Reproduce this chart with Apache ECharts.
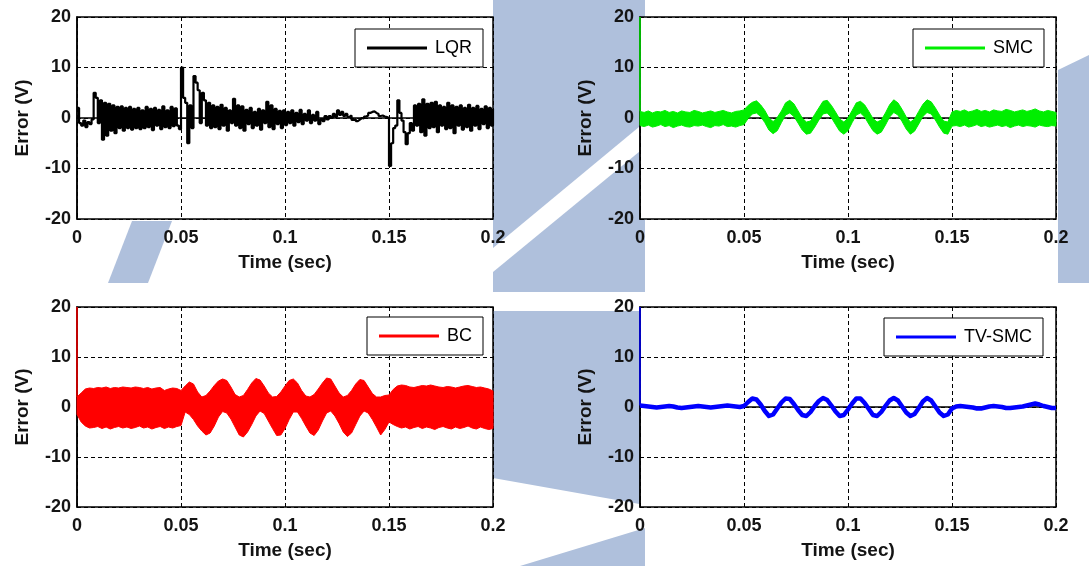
<!DOCTYPE html>
<html>
<head>
<meta charset="utf-8">
<script src="https://cdn.jsdelivr.net/npm/echarts@6/dist/echarts.min.js"></script>
<style>
  html, body { margin: 0; padding: 0; background: #ffffff; }
  #chart { width: 1089px; height: 566px; }
</style>
</head>
<body>
<div id="chart"></div>
<script>
// Axis ticks shared by the four panels
const xTicks = [0, 0.05, 0.1, 0.15, 0.2];
const yTicks = [-20, -10, 0, 10, 20];

const controllerNames = ['LQR', 'SMC', 'BC', 'TV-SMC'];

// LQR tracking error, one sample per millisecond (V)
const lqrStep = 0.001;
const lqrError = [
  2, -1, -1.5, -0.5, -1.8, -0.8, -1.2, -0.3, 5, 4,
  -1, 3.5, -4.3, 3, -3.5, 2.8, -2.5, 2.5, -3, 2.2,
  -2, 2.3, -2.5, 2, -2, 2.2, -2.3, 1.8, -2, 2,
  -2.2, 1.5, -2, 2.2, -1.8, 1.8, -2.4, 2, -1.5, 1.6,
  -2.2, 2.3, -1.8, 1.5, -2, 2.2, -1.6, 1.9, -1.5, -2.2,
  10, 4, 3, -5, 2.5, -2, 8.3, 7, 5.5, -1,
  5, 3.5, -1.5, 3, -2, 2.5, -1.8, 2.2, -2.2, 2.6,
  -1.5, 2, -2.5, 1.5, -1, 3.8, -1.5, 2.5, -2, 2.3,
  -2.5, 1.6, -1.2, 2, -2, 1.2, -1.5, 1.8, -2.3, 1.5,
  -1, 3.2, -1.8, 2.5, -2.2, 1.8, -1.2, 1.4, -2, 1.5,
  -1.4, 1.2, -1, 1.5, -1.5, 1, -0.8, 1.6, -1.2, 0.8,
  -0.5, 1.5, -1, 0.6, -0.5, 1.2, -1.2, -0.2, -0.6, 0.4,
  -0.3, 0.4, 0, 0.8, 0.2, 1.5, 0.6, 1.2, 0.4, 0.8,
  0.2, 0.5, -0.4, -0.2, -0.6, -0.3, 0, -0.1, 0.3, 0.5,
  1, 1.2, 1.3, 1, 0.8, 0.4, 0.5, 0.3, 0.2, 0,
  -9.5, -5, -2, -1.5, 3.5, 1, -0.5, -2.8, -5.2, -3,
  -1, -2.5, 2.5, -1.5, 2.8, -2.8, 3.7, -3.5, 2.8, -2,
  3, -1.8, 3.2, -2.8, 2.5, -1.5, 2.2, -2.2, 3, -2,
  2.5, -3, 2.2, -1.5, 2.5, -2.3, 2, -1.8, 2.6, -2.5,
  2, -1.5, 2.4, -2.2, 1.8, -1.2, 2.3, -2, 2, -1.5,
  1.8
];

// Envelopes of the fast-switching errors, one sample every 2 ms (V)
const bandStep = 0.002;
const smcUpper = [
  1.3, 1.1, 1.4, 1.0, 1.3, 1.2, 1.5, 1.1, 1.3, 1.0, 1.4, 1.2, 1.1, 1.5, 1.3, 1.0, 1.2, 1.4, 1.1, 1.3, 1.5, 1.2, 1.0, 1.3, 1.4,
  1.6, 2.5, 3.1, 3.4, 2.6, 1.5, 0.0, -0.7, 0.1, 1.4,
  3.0, 3.5, 2.8, 1.4, 0.0, -0.8, -0.6, 0.7, 2.0, 3.3,
  3.5, 2.5, 1.2, -0.2, -0.8, 0.0, 1.5, 3.0, 3.3, 2.6,
  1.3, -0.1, -0.8, -0.4, 1.0, 2.6, 3.6, 3.0, 1.7, 0.2,
  -0.8, -0.2, 1.3, 2.7, 3.6, 3.2, 2.0, 0.6, -0.6, -0.8,
  1.2,
  1.5, 1.3, 1.6, 1.2, 1.4, 1.7, 1.3, 1.5, 1.2, 1.6, 1.4, 1.3, 1.7, 1.5, 1.2, 1.4, 1.6, 1.3, 1.5, 1.8, 1.4, 1.2, 1.5, 1.3, 1.1
];
const smcLower = [
  -1.5, -1.7, -1.4, -1.8, -1.6, -1.3, -1.7, -1.5, -1.9, -1.6, -1.4, -1.7, -1.8, -1.5, -1.6, -1.4, -1.7, -1.9, -1.5, -1.6, -1.3, -1.7, -1.6, -1.8, -1.5,
  -1.3, -0.1, 0.8, 1.0, 0.3, -0.9, -2.4, -3.1, -2.5, -0.9,
  0.6, 1.0, 0.3, -1.0, -2.4, -3.2, -3.0, -1.8, -0.4, 0.8,
  1.0, 0.1, -1.3, -2.6, -3.2, -2.5, -0.9, 0.6, 1.0, 0.2,
  -1.2, -2.5, -3.2, -2.8, -1.4, 0.2, 1.1, 0.6, -0.7, -2.2,
  -3.2, -2.6, -1.2, 0.3, 1.1, 0.8, -0.4, -1.8, -3.0, -3.2,
  -1.6,
  -1.5, -1.7, -1.4, -1.8, -1.6, -1.3, -1.7, -1.5, -1.8, -1.6, -1.4, -1.7, -1.5, -1.9, -1.6, -1.4, -1.7, -1.5, -1.6, -1.8, -1.4, -1.6, -1.7, -1.5, -1.6
];
const bcUpper = [
  2.0, 2.8, 3.6, 3.8, 3.7, 3.9, 3.8, 4.0, 3.7, 3.9, 3.8, 4.0, 3.9, 3.8, 4.0, 3.9, 3.7, 3.9, 3.6, 3.8, 3.9, 3.3, 3.6, 3.8, 3.7,
  3.3, 4.2, 5.0, 4.6, 3.0, 2.0, 2.3, 3.2, 4.3, 5.2,
  5.6, 5.3, 4.0, 2.5, 2.0, 2.3, 3.5, 4.8, 5.7, 5.4,
  4.2, 2.8, 2.0, 2.1, 3.0, 4.2, 5.3, 5.6, 4.8, 3.3,
  2.2, 2.0, 2.5, 3.6, 4.8, 5.8, 5.6, 4.2, 2.8, 2.0,
  2.3, 3.3, 4.6, 5.5, 5.3, 4.0, 2.7, 2.0, 2.0, 2.3,
  2.4,
  3.5, 4.2, 4.4, 4.3, 4.0, 3.9, 4.1, 4.3, 4.2, 4.4, 4.2, 4.0, 3.9, 4.1, 4.0, 3.8, 4.0, 4.2, 4.3, 4.1, 3.9, 4.0, 3.8, 3.6, 3.2
];
const bcLower = [
  -1.5, -3.0, -3.8, -4.2, -4.1, -3.9, -4.3, -4.0, -4.4, -4.1, -3.9, -4.2, -4.0, -4.3, -4.1, -3.8, -4.2, -4.0, -4.4, -4.1, -3.9, -4.3, -4.0, -4.2, -3.9,
  -3.7, -1.0, -1.5, -2.5, -3.8, -4.8, -5.6, -5.2, -3.8, -2.0,
  -0.9, -1.2, -2.4, -4.0, -5.6, -6.0, -5.0, -3.5, -1.8, -0.8,
  -1.3, -2.8, -4.3, -5.7, -5.6, -4.3, -2.5, -1.0, -1.0, -2.3,
  -3.8, -5.2, -5.7, -4.6, -2.8, -1.2, -0.8, -1.8, -3.3, -5.0,
  -5.9, -5.2, -3.5, -1.8, -0.8, -1.2, -2.5, -4.0, -5.6, -4.5,
  -3.0,
  -3.5, -3.9, -4.2, -4.0, -4.4, -4.1, -3.9, -4.3, -4.0, -4.2, -4.5, -4.1, -3.9, -4.2, -4.4, -4.0, -4.3, -4.1, -3.8, -4.2, -4.4, -4.0, -4.3, -4.5, -4.3
];

// TV-SMC tracking error, one sample every 2 ms (V)
const tvsmcError = [
  0.3, 0.2, 0.1, 0, -0.1, 0, 0.1, 0.2, 0.1, -0.1, -0.2, -0.1, 0, 0.1, 0.2, 0.1, 0, -0.1, 0, 0.1, 0.2, 0.3, 0.2, 0.1, 0,
  0.2, 1.0, 1.7, 1.5, 0.5, -0.8, -1.8, -1.5, -0.3, 0.9,
  1.7, 1.6, 0.6, -0.6, -1.6, -1.8, -1.0, 0.2, 1.2, 1.8,
  1.4, 0.3, -0.9, -1.8, -1.6, -0.5, 0.7, 1.7, 1.7, 0.8,
  -0.4, -1.6, -1.8, -1.0, 0.2, 1.3, 1.8, 1.3, 0.1, -1.1,
  -1.8, -1.4, -0.2, 1.1, 1.8, 1.3, 0.1, -1.1, -1.8, -1.5,
  -0.3,
  0.1, 0.2, 0.1, 0, -0.1, -0.3, -0.3, -0.1, 0.1, 0.2, 0.1, 0, -0.2, -0.2, -0.1, 0, 0.1, 0.3, 0.5, 0.7, 0.5, 0.2, 0, -0.2, -0.2
];

// Initial transient of SMC, BC and TV-SMC at t = 0 (V)
const startError = 20;

// ---------------------------------------------------------------------------
const FONT = '"Liberation Sans", Arial, Helvetica, sans-serif';
const COLORS = { 'LQR': '#000000', 'SMC': '#00ee00', 'BC': '#ff0000', 'TV-SMC': '#0000ff' };
const TEXT = '#141414';
const WATERMARK = '#afc0dc';

const grids = [
  { left: 77,  top: 17,  width: 416, height: 202 },
  { left: 640, top: 17,  width: 416, height: 202 },
  { left: 77,  top: 307, width: 416, height: 200 },
  { left: 640, top: 307, width: 416, height: 200 }
].map(g => Object.assign({
  show: true, backgroundColor: '#ffffff', borderColor: '#000000', borderWidth: 1.5
}, g));

const gridLine = { show: true, lineStyle: { color: '#000000', type: [4, 3], width: 1 } };
const tickFont = { color: TEXT, fontSize: 18, fontWeight: 'bold', fontFamily: FONT };
const nameFont = { color: TEXT, fontSize: 19, fontWeight: 'bold', fontFamily: FONT };

const xAxes = grids.map((g, i) => ({
  gridIndex: i, type: 'value',
  min: xTicks[0], max: xTicks[xTicks.length - 1], interval: xTicks[1] - xTicks[0],
  axisLine: { show: true, lineStyle: { color: '#000000', width: 1.5 } },
  axisTick: { show: false },
  splitLine: gridLine,
  axisLabel: Object.assign({ margin: 10 }, tickFont),
  name: 'Time (sec)', nameLocation: 'middle', nameGap: 34,
  nameTextStyle: nameFont
}));

const yAxes = grids.map((g, i) => ({
  gridIndex: i, type: 'value',
  min: yTicks[0], max: yTicks[yTicks.length - 1], interval: yTicks[1] - yTicks[0],
  axisLine: { show: true, lineStyle: { color: '#000000', width: 1.5 } },
  axisTick: { show: false },
  splitLine: gridLine,
  axisLabel: Object.assign({ margin: 6 }, tickFont),
  name: 'Error (V)', nameLocation: 'middle', nameGap: 45,
  nameTextStyle: nameFont
}));

// Filled envelope between an upper and a lower trace, placed with the axis scales
function bandSeries(name, idx, upper, lower) {
  const color = COLORS[name];
  const rows = upper.map((u, i) => [i * bandStep, u, lower[i]]);
  return {
    type: 'custom', name, xAxisIndex: idx, yAxisIndex: idx,
    data: rows, encode: { x: 0, y: [1, 2] },
    itemStyle: { color }, silent: true, z: 3,
    renderItem(params, api) {
      if (params.dataIndex !== 0) return null;
      const top = rows.map(r => api.coord([r[0], r[1]]));
      const bottom = rows.map(r => api.coord([r[0], r[2]])).reverse();
      return {
        type: 'polygon',
        shape: { points: top.concat(bottom) },
        style: { fill: color, stroke: color, lineWidth: 1 }
      };
    }
  };
}

function startSeries(name, idx, firstValue) {
  return {
    type: 'line', name: name + ' start', xAxisIndex: idx, yAxisIndex: idx,
    data: [[0, startError], [0, firstValue]],
    symbol: 'none', silent: true, z: 4,
    lineStyle: { color: COLORS[name], width: 1.5 }
  };
}

const series = [
  {
    type: 'line', name: 'LQR', xAxisIndex: 0, yAxisIndex: 0,
    data: lqrError.map((v, i) => [i * lqrStep, v]),
    step: 'end', symbol: 'none', silent: true, z: 3,
    itemStyle: { color: COLORS['LQR'] },
    lineStyle: { color: COLORS['LQR'], width: 2.2 }
  },
  bandSeries('SMC', 1, smcUpper, smcLower),
  startSeries('SMC', 1, smcUpper[0]),
  bandSeries('BC', 2, bcUpper, bcLower),
  startSeries('BC', 2, bcUpper[0]),
  {
    type: 'line', name: 'TV-SMC', xAxisIndex: 3, yAxisIndex: 3,
    data: tvsmcError.map((v, i) => [i * bandStep, v]),
    symbol: 'none', silent: true, z: 3,
    itemStyle: { color: COLORS['TV-SMC'] },
    lineStyle: { color: COLORS['TV-SMC'], width: 4.5, join: 'round' }
  },
  startSeries('TV-SMC', 3, tvsmcError[0])
];

const legendPos = [
  { left: 355, top: 29 },
  { left: 913, top: 29 },
  { left: 367, top: 317 },
  { left: 884, top: 318 }
];
const legends = controllerNames.map((name, i) => Object.assign({
  orient: 'vertical', selectedMode: false,
  data: [{ name, icon: 'rect', itemStyle: { color: COLORS[name] } }],
  itemWidth: 60, itemHeight: 3,
  padding: [9, 11, 9, 12],
  backgroundColor: '#ffffff', borderColor: '#000000', borderWidth: 1, borderRadius: 0,
  textStyle: { fontSize: 18, fontFamily: FONT, color: '#000000', lineHeight: 20, padding: [0, 0, 0, 3] }
}, legendPos[i]));

// Faint university seal printed behind the figure
const sealStyle = { fill: WATERMARK };
const watermark = [
  { type: 'polygon', shape: { points: [[493, 0], [645, 0], [645, 122], [493, 248]] } },
  { type: 'polygon', shape: { points: [[493, 272], [645, 147], [645, 292], [493, 292]] } },
  { type: 'polygon', shape: { points: [[493, 311], [645, 311], [645, 505], [493, 478]] } },
  { type: 'polygon', shape: { points: [[520, 566], [645, 528], [645, 566]] } },
  { type: 'polygon', shape: { points: [[132, 221], [172, 221], [148, 283], [108, 283]] } },
  { type: 'polygon', shape: { points: [[1058, 70], [1089, 55], [1089, 283], [1058, 283]] } }
].map(el => Object.assign({ z: -10, silent: true, style: sealStyle }, el));

const chart = echarts.init(document.getElementById('chart'), null, { renderer: 'canvas' });
chart.setOption({
  animation: false,
  backgroundColor: '#ffffff',
  graphic: watermark,
  grid: grids,
  xAxis: xAxes,
  yAxis: yAxes,
  legend: legends,
  series
});
</script>
</body>
</html>
